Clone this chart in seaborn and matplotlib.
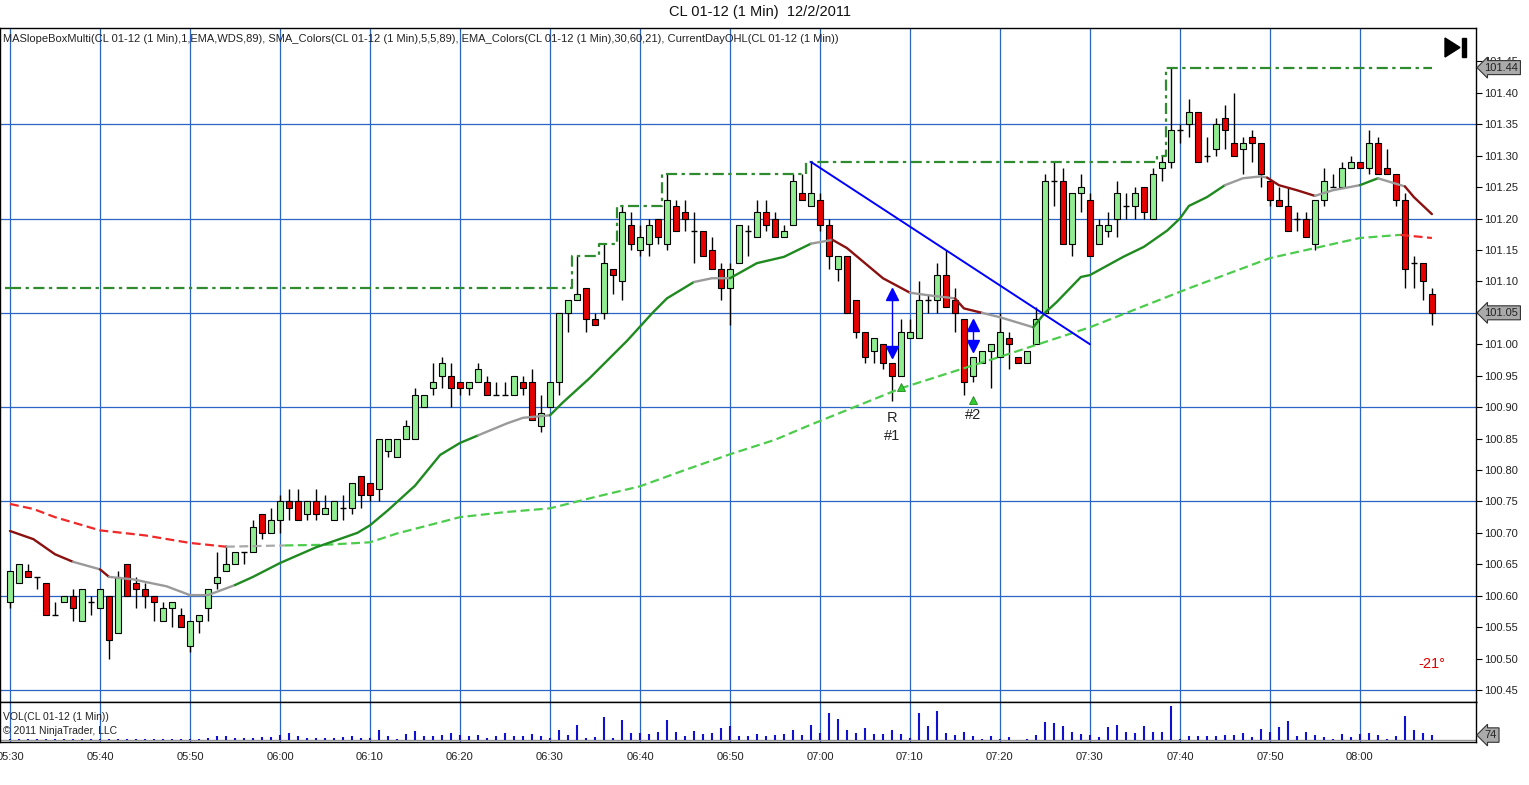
import matplotlib
matplotlib.use("Agg")
import matplotlib.pyplot as plt
import matplotlib.transforms as mtransforms
from matplotlib.patches import Polygon, Rectangle
import numpy as np
import pandas as pd
import seaborn as sns

# ---- 1 minute bars, CL 01-12, 05:30 .. 08:08 ----
opens = [
    100.59, 100.62, 100.64, 100.63, 100.62, 100.57, 100.59, 100.60, 100.56, 100.59,
    100.58, 100.60, 100.54, 100.65, 100.62, 100.61, 100.60, 100.56, 100.58, 100.57,
    100.52, 100.56, 100.58, 100.62, 100.64, 100.65, 100.67, 100.67, 100.73, 100.70,
    100.72, 100.75, 100.75, 100.73, 100.75, 100.73, 100.72, 100.74, 100.74, 100.79,
    100.78, 100.77, 100.83, 100.82, 100.85, 100.85, 100.90, 100.93, 100.95, 100.95,
    100.94, 100.93, 100.94, 100.94, 100.92, 100.92, 100.92, 100.94, 100.94, 100.87,
    100.90, 100.94, 101.05, 101.07, 101.09, 101.04, 101.05, 101.12, 101.10, 101.19,
    101.15, 101.16, 101.20, 101.16, 101.22, 101.21, 101.18, 101.18, 101.15, 101.12,
    101.09, 101.13, 101.18, 101.17, 101.21, 101.20, 101.17, 101.19, 101.24, 101.22,
    101.23, 101.19, 101.12, 101.14, 101.07, 101.02, 100.99, 101.00, 100.97, 100.95,
    101.01, 101.01, 101.07, 101.07, 101.11, 101.07, 101.04, 100.95, 100.97, 100.99,
    100.98, 101.01, 100.98, 100.97, 101.00, 101.05, 101.26, 101.26, 101.16, 101.24,
    101.23, 101.16, 101.18, 101.20, 101.22, 101.22, 101.25, 101.20, 101.28, 101.29,
    101.34, 101.35, 101.37, 101.30, 101.31, 101.36, 101.32, 101.31, 101.33, 101.32,
    101.26, 101.23, 101.22, 101.20, 101.20, 101.16, 101.23, 101.25, 101.25, 101.28,
    101.29, 101.28, 101.32, 101.28, 101.27, 101.23, 101.13, 101.13, 101.08,
]
highs = [
    100.64, 100.65, 100.65, 100.63, 100.62, 100.59, 100.60, 100.61, 100.61, 100.60,
    100.61, 100.60, 100.64, 100.65, 100.63, 100.62, 100.60, 100.59, 100.59, 100.58,
    100.56, 100.57, 100.61, 100.67, 100.68, 100.67, 100.67, 100.72, 100.73, 100.74,
    100.76, 100.77, 100.77, 100.75, 100.77, 100.76, 100.75, 100.76, 100.78, 100.79,
    100.78, 100.85, 100.85, 100.85, 100.88, 100.93, 100.92, 100.97, 100.98, 100.97,
    100.94, 100.94, 100.97, 100.95, 100.94, 100.94, 100.95, 100.95, 100.96, 100.92,
    100.94, 101.05, 101.07, 101.14, 101.09, 101.05, 101.16, 101.12, 101.22, 101.21,
    101.19, 101.20, 101.20, 101.27, 101.23, 101.23, 101.21, 101.18, 101.17, 101.13,
    101.13, 101.19, 101.19, 101.23, 101.23, 101.21, 101.19, 101.27, 101.27, 101.29,
    101.24, 101.20, 101.14, 101.14, 101.07, 101.02, 101.01, 101.00, 100.97, 101.04,
    101.04, 101.10, 101.08, 101.13, 101.15, 101.09, 101.04, 100.98, 100.99, 101.00,
    101.05, 101.02, 100.98, 100.99, 101.06, 101.27, 101.29, 101.28, 101.24, 101.27,
    101.24, 101.20, 101.21, 101.26, 101.24, 101.25, 101.25, 101.28, 101.30, 101.44,
    101.35, 101.39, 101.37, 101.33, 101.36, 101.38, 101.40, 101.33, 101.34, 101.32,
    101.26, 101.25, 101.25, 101.21, 101.21, 101.23, 101.28, 101.27, 101.29, 101.30,
    101.29, 101.34, 101.33, 101.31, 101.27, 101.24, 101.14, 101.13, 101.09,
]
lows = [
    100.58, 100.62, 100.63, 100.61, 100.57, 100.57, 100.59, 100.56, 100.56, 100.57,
    100.58, 100.50, 100.54, 100.60, 100.58, 100.58, 100.56, 100.56, 100.55, 100.55,
    100.51, 100.54, 100.56, 100.61, 100.64, 100.65, 100.65, 100.67, 100.69, 100.70,
    100.70, 100.72, 100.72, 100.72, 100.72, 100.73, 100.72, 100.72, 100.73, 100.74,
    100.75, 100.75, 100.82, 100.82, 100.85, 100.85, 100.90, 100.92, 100.93, 100.90,
    100.92, 100.92, 100.94, 100.92, 100.92, 100.92, 100.92, 100.92, 100.88, 100.86,
    100.90, 100.92, 101.02, 101.07, 101.02, 101.03, 101.04, 101.08, 101.07, 101.15,
    101.14, 101.14, 101.16, 101.15, 101.18, 101.18, 101.13, 101.14, 101.12, 101.07,
    101.03, 101.13, 101.14, 101.17, 101.18, 101.17, 101.17, 101.19, 101.23, 101.22,
    101.18, 101.12, 101.10, 101.05, 101.01, 100.97, 100.97, 100.96, 100.91, 100.95,
    101.01, 101.01, 101.05, 101.05, 101.06, 101.02, 100.92, 100.94, 100.97, 100.93,
    100.98, 100.96, 100.97, 100.97, 101.00, 101.05, 101.22, 101.16, 101.14, 101.21,
    101.14, 101.16, 101.17, 101.17, 101.20, 101.20, 101.20, 101.20, 101.26, 101.28,
    101.32, 101.33, 101.29, 101.29, 101.30, 101.31, 101.30, 101.27, 101.29, 101.25,
    101.22, 101.22, 101.18, 101.18, 101.17, 101.15, 101.22, 101.25, 101.25, 101.28,
    101.28, 101.27, 101.27, 101.27, 101.22, 101.09, 101.09, 101.07, 101.03,
]
closes = [
    100.64, 100.65, 100.63, 100.63, 100.57, 100.57, 100.60, 100.58, 100.61, 100.59,
    100.61, 100.53, 100.63, 100.60, 100.61, 100.60, 100.59, 100.58, 100.59, 100.55,
    100.56, 100.57, 100.61, 100.63, 100.65, 100.67, 100.67, 100.71, 100.70, 100.72,
    100.75, 100.74, 100.72, 100.75, 100.73, 100.74, 100.75, 100.74, 100.78, 100.76,
    100.76, 100.85, 100.85, 100.85, 100.87, 100.92, 100.92, 100.94, 100.97, 100.93,
    100.93, 100.94, 100.96, 100.92, 100.92, 100.92, 100.95, 100.93, 100.88, 100.89,
    100.94, 101.05, 101.07, 101.08, 101.04, 101.03, 101.13, 101.11, 101.21, 101.16,
    101.17, 101.19, 101.17, 101.23, 101.18, 101.20, 101.18, 101.14, 101.12, 101.09,
    101.12, 101.19, 101.18, 101.21, 101.19, 101.17, 101.18, 101.26, 101.23, 101.24,
    101.19, 101.14, 101.14, 101.05, 101.02, 100.98, 101.01, 100.97, 100.95, 101.02,
    101.02, 101.07, 101.07, 101.11, 101.06, 101.05, 100.94, 100.98, 100.99, 101.00,
    101.02, 101.00, 100.97, 100.99, 101.04, 101.26, 101.26, 101.16, 101.24, 101.25,
    101.14, 101.19, 101.19, 101.24, 101.22, 101.24, 101.21, 101.27, 101.29, 101.34,
    101.34, 101.37, 101.29, 101.30, 101.35, 101.34, 101.30, 101.32, 101.32, 101.27,
    101.23, 101.22, 101.18, 101.20, 101.17, 101.23, 101.26, 101.25, 101.28, 101.29,
    101.28, 101.32, 101.27, 101.27, 101.23, 101.12, 101.13, 101.10, 101.05,
]
volumes = [
    17, 17, 17, 17, 17, 17, 17, 17, 17, 17,
    17, 17, 17, 17, 17, 17, 17, 17, 17, 14,
    17, 17, 34, 57, 63, 34, 28, 28, 46, 46,
    74, 103, 63, 34, 34, 34, 34, 46, 57, 34,
    34, 154, 63, 17, 86, 131, 57, 63, 74, 103,
    74, 57, 74, 34, 57, 103, 57, 63, 86, 57,
    34, 154, 74, 217, 28, 46, 342, 34, 291, 103,
    103, 86, 114, 291, 120, 57, 131, 86, 103, 171,
    205, 57, 57, 86, 63, 74, 86, 143, 74, 222,
    103, 399, 308, 143, 108, 171, 86, 86, 154, 86,
    28, 399, 205, 433, 108, 74, 125, 57, 17, 57,
    17, 40, 6, 17, 74, 262, 245, 205, 125, 91,
    74, 40, 188, 222, 125, 108, 205, 125, 125, 496,
    17, 57, 57, 57, 57, 74, 74, 103, 40, 160,
    125, 188, 274, 57, 125, 74, 40, 17, 86, 40,
    86, 108, 68, 17, 57, 359, 154, 108, 74,
]
prior_high = 101.09

# EMA(21) coloured by slope (bar index, price)
ema_x = [0, 2.6, 5, 7, 10, 11, 13.7, 17.4, 20, 22, 25, 27, 30, 34, 38.6, 40, 42, 43, 45, 47.8,
         50, 52, 55.2, 57, 60, 61.4, 64.4, 68.6, 71.4, 73, 76, 78, 80, 83, 86, 88, 89, 91.4, 93, 95,
         97, 100, 102, 105, 106, 108, 110, 113.7, 115, 116.3, 119, 120, 123.7, 126, 128.6, 130, 131,
         133, 135, 137, 139, 139.7, 141, 143, 145, 147, 150, 152, 155, 156, 158]
ema_y = [100.703, 100.690, 100.666, 100.654, 100.642, 100.630, 100.626, 100.615, 100.601, 100.601,
         100.617, 100.630, 100.652, 100.677, 100.700, 100.712, 100.736, 100.749, 100.775, 100.824,
         100.843, 100.855, 100.874, 100.883, 100.887, 100.907, 100.946, 101.006, 101.050, 101.073,
         101.099, 101.105, 101.105, 101.129, 101.139, 101.153, 101.160, 101.166, 101.153, 101.129,
         101.105, 101.082, 101.078, 101.073, 101.057, 101.050, 101.043, 101.027, 101.050, 101.067,
         101.107, 101.110, 101.139, 101.155, 101.181, 101.200, 101.220, 101.234, 101.253, 101.264,
         101.267, 101.265, 101.253, 101.245, 101.236, 101.245, 101.253, 101.264, 101.251, 101.234,
         101.207]
ema_breaks = [0, 7, 10, 11, 25, 52, 60, 76, 80, 89, 91.4, 100, 105, 108, 113.7, 135, 139.7,
              145, 150, 152, 155]
ema_state = ["dn", "flat", "dn", "flat", "up", "flat", "up", "flat", "up", "flat", "dn",
             "flat", "dn", "flat", "up", "flat", "dn", "flat", "up", "flat", "dn"]

# SMA(89) coloured by slope
sma_x = [0, 2.6, 5, 10, 15, 20, 24, 30.5, 35, 40, 43, 50, 55, 60, 65, 70, 75, 80, 85, 88.8,
         99, 110, 120, 131, 140, 150, 154.5, 158]
sma_y = [100.746, 100.738, 100.725, 100.704, 100.696, 100.684, 100.678, 100.680, 100.681,
         100.685, 100.699, 100.725, 100.733, 100.739, 100.757, 100.774, 100.800, 100.825,
         100.848, 100.871, 100.930, 100.980, 101.027, 101.089, 101.137, 101.169, 101.174, 101.169]
sma_breaks = [0, 24, 30.5, 154.5]
sma_state = ["dn", "flat", "up", "dn"]

# hand drawn trend line and markers
trend_x = [89, 120]
trend_y = [101.29, 101.00]
time_labels = ["05:30", "05:40", "05:50", "06:00", "06:10", "06:20", "06:30", "06:40",
               "06:50", "07:00", "07:10", "07:20", "07:30", "07:40", "07:50", "08:00"]

W, H = 1529, 785
n = len(closes)
idx = np.arange(n)


def fx(px):
    return px / W


def fy(py):
    return 1 - py / H


sns.set_theme(style="white")
plt.rcParams["font.family"] = ["Liberation Sans", "DejaVu Sans"]

fig = plt.figure(figsize=(W / 100, H / 100), dpi=100)
ax = fig.add_axes([0.0, fy(702), fx(1476), fy(28) - fy(702)])
axv = fig.add_axes([0.0, fy(742), fx(1476), fy(702) - fy(742)], sharex=ax)

grid_c = "#2a64c4"
xmin, xmax = -1.11, 162.9
ax.set_xlim(xmin, xmax)
ax.set_ylim(100.431, 101.503)

for a in (ax, axv):
    a.set_facecolor("white")
    for s in a.spines.values():
        s.set_color("black")
        s.set_linewidth(1.0)
    for g in range(0, n, 10):
        a.axvline(g, color=grid_c, lw=0.9, zorder=0)
for p in np.arange(100.45, 101.36, 0.15):
    ax.axhline(p, color=grid_c, lw=0.9, zorder=0)

# candles
o = np.array(opens)
c = np.array(closes)
ax.vlines(idx, lows, highs, color="black", lw=1.0, zorder=2)
up = c > o
dn = c < o
flat = c == o
bw = 0.66
ax.bar(idx[up], (c - o)[up], bottom=o[up], width=bw, color="#90ee90",
       edgecolor="black", linewidth=0.8, zorder=3)
ax.bar(idx[dn], (o - c)[dn], bottom=c[dn], width=bw, color="#e60000",
       edgecolor="black", linewidth=0.8, zorder=3)
ax.hlines(c[flat], idx[flat] - bw / 2, idx[flat] + bw / 2, color="black", lw=1.0, zorder=3)

# slope coloured moving averages
def draw_ma(xs, ys, breaks, states, colors, ls, lw):
    df = pd.DataFrame({"x": xs, "y": ys})
    edges = breaks + [xs[-1]]
    for k, st in enumerate(states):
        seg = df[(df.x >= edges[k]) & (df.x <= edges[k + 1])]
        sns.lineplot(data=seg, x="x", y="y", ax=ax, color=colors[st], lw=lw,
                     linestyle=ls, estimator=None, sort=False, zorder=4)


draw_ma(sma_x, sma_y, sma_breaks, sma_state,
        {"dn": "#f02828", "flat": "#a8a8a8", "up": "#4ccc4c"}, (0, (4, 2)), 1.6)
draw_ma(ema_x, ema_y, ema_breaks, ema_state,
        {"dn": "#8b1010", "flat": "#9a9a9a", "up": "#1f8a1f"}, "-", 1.7)

# current day high
day_high = np.maximum.accumulate(np.r_[prior_high, highs])[1:]
ax.plot(idx, day_high, drawstyle="steps-mid", color="#2e8b2e", lw=1.6,
        linestyle=(0, (5, 2, 1.5, 2)), zorder=4)
ax.plot([-0.5, 0], [prior_high, prior_high], color="#2e8b2e", lw=1.6,
        linestyle=(0, (5, 2, 1.5, 2)), zorder=4)

# trend line
ax.plot(trend_x, trend_y, color="#0000ff", lw=1.4, zorder=5)

# arrows and signal marks
for xi, ytop, ybot in [(98, 101.08, 100.987), (107, 101.03, 100.998)]:
    ax.plot([xi, xi], [ytop, ybot], color="#0000ff", lw=1.0, zorder=6)
    ax.plot(xi, ytop, marker="^", ms=9, color="#0000ff", zorder=6)
    ax.plot(xi, ybot, marker="v", ms=9, color="#0000ff", zorder=6)
ax.plot([99, 107], [100.932, 100.911], ls="none", marker="^", ms=6,
        mfc="#33cc33", mec="#1f8a1f", mew=0.6, zorder=6)
ax.text(98, 100.883, "R", ha="center", va="center", fontsize=10.5, color="#222222")
ax.text(98, 100.854, "#1", ha="center", va="center", fontsize=10.5, color="#222222")
ax.text(107, 100.887, "#2", ha="center", va="center", fontsize=10.5, color="#222222")
ax.text(158, 100.491, "-21°", ha="center", va="center", fontsize=10.5, color="#e00000")

# price axis on the right
ax.yaxis.tick_right()
ax.set_yticks(np.round(np.arange(100.45, 101.451, 0.05), 2))
ax.yaxis.set_major_formatter(matplotlib.ticker.FormatStrFormatter("%.2f"))
ax.tick_params(axis="y", right=True, length=4, width=0.8, color="black",
               labelsize=8, pad=2, labelcolor="#222222")
ax.tick_params(axis="x", bottom=False, labelbottom=False)
ax.set_xlabel("")
ax.set_ylabel("")

btrans = mtransforms.blended_transform_factory(ax.transAxes, ax.transData)
for price, label in [(101.44, "101.44"), (closes[-1], "101.05")]:
    ax.text(1.0058, price, label, transform=btrans, ha="left", va="center", fontsize=8,
            color="#222222", zorder=10, clip_on=False,
            bbox=dict(boxstyle="larrow,pad=0.18", fc="#aaaaaa", ec="#333333", lw=0.8))

# volume panel
axv.vlines(idx, 0, volumes, color="#1010d0", lw=1.5, zorder=2)
axv.axhline(0, color="#999999", lw=1.0, zorder=1)
axv.set_ylim(-28, 560)
axv.set_yticks([])
axv.set_ylabel("")
axv.set_xticks(range(0, n, 10))
axv.set_xticklabels(time_labels)
axv.tick_params(axis="x", bottom=False, labelsize=8, pad=1, labelcolor="#222222")
vtrans = mtransforms.blended_transform_factory(axv.transAxes, axv.transData)
axv.text(1.0058, volumes[-1], str(volumes[-1]), transform=vtrans, ha="left", va="center",
         fontsize=8, color="#222222", zorder=10, clip_on=False,
         bbox=dict(boxstyle="larrow,pad=0.2", fc="#aaaaaa", ec="#333333", lw=0.8))
axv.text(0.002, 0.62, "VOL(CL 01-12 (1 Min))", transform=axv.transAxes, fontsize=7.5,
         va="center", color="#222222")
axv.text(0.002, 0.27, "© 2011 NinjaTrader, LLC", transform=axv.transAxes, fontsize=7.5,
         va="center", color="#222222")

# header texts
fig.text(fx(760), fy(12), "CL 01-12 (1 Min)  12/2/2011", ha="center", va="center",
         fontsize=10.5, color="#111111")
fig.text(fx(3), fy(39), "MASlopeBoxMulti(CL 01-12 (1 Min),1,EMA,WDS,89), "
         "SMA_Colors(CL 01-12 (1 Min),5,5,89), EMA_Colors(CL 01-12 (1 Min),30,60,21), "
         "CurrentDayOHL(CL 01-12 (1 Min))", ha="left", va="center", fontsize=8,
         color="#222222")

# "go to end" icon
fig.patches.append(Polygon([[fx(1445), fy(38)], [fx(1445), fy(57)], [fx(1460), fy(47.5)]],
                           closed=True, transform=fig.transFigure, color="black"))
fig.patches.append(Rectangle((fx(1462), fy(57)), fx(4), fy(38) - fy(57),
                             transform=fig.transFigure, color="black"))

fig.savefig("out.png", dpi=100, facecolor="white")
